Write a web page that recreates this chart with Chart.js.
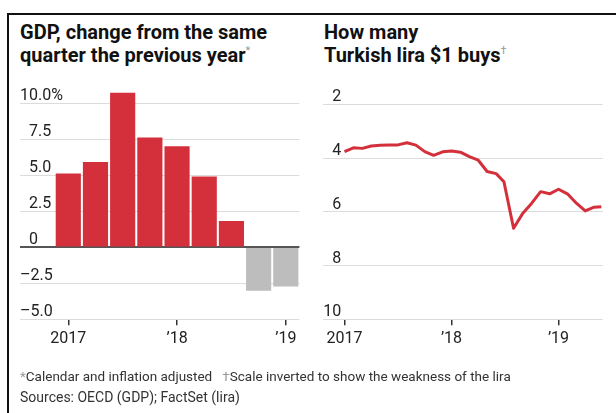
<!DOCTYPE html>
<html>
<head>
<meta charset="utf-8">
<script src="https://cdn.jsdelivr.net/npm/chart.js@4.4.1/dist/chart.umd.min.js"></script>
<style>
  html, body { margin: 0; padding: 0; background: #fff; }
  #page { position: relative; width: 616px; height: 413px; overflow: hidden; font-family: Roboto, "Noto Sans", sans-serif; color: #111; }
  .frame { position: absolute; left: 7px; top: 13px; width: 640px; height: 440px; border-left: 2px solid #111; border-top: 2px solid #111; }
  .title { position: absolute; top: 21px; font-weight: 700; font-size: 20px; line-height: 23px; white-space: nowrap; }
  .title sup { font-size: 11px; color: #999; font-weight: 400; vertical-align: top; line-height: 14px; }
  canvas { position: absolute; top: 0; }
  .notes { position: absolute; left: 20px; top: 366px; font-size: 13.5px; line-height: 21px; color: #333; white-space: nowrap; }
  .notes .mark { color: #999; }
</style>
</head>
<body>
<div id="page">
  <div class="frame"></div>
  <div class="title" style="left:20px">GDP, change from the same<br>quarter the previous year<sup>*</sup></div>
  <div class="title" style="left:324px">How many<br>Turkish lira $1 buys<sup>†</sup></div>
  <canvas id="gdpChart" width="310" height="413" style="left:0"></canvas>
  <canvas id="liraChart" width="306" height="413" style="left:310px"></canvas>
  <div class="notes">
    <span class="mark">*</span>Calendar and inflation adjusted &nbsp;&nbsp;<span class="mark">†</span>Scale inverted to show the weakness of the lira<br>
    <span style="font-size:14px">Sources: OECD (GDP); FactSet (lira)</span>
  </div>
</div>
<script>
// GDP, change from the same quarter the previous year (Q1 2017 .. Q1 2019)
const gdpQuarters = [0, 1, 2, 3, 4, 5, 6, 7, 8];
const gdpValues = [5.1, 5.9, 10.7, 7.6, 7.0, 4.9, 1.8, -3.0, -2.7];
const gdpTickValues = [-5, -2.5, 0, 2.5, 5, 7.5, 10];
const gdpTickLabels = ['\u20135.0', '\u20132.5', '\u20070', '\u20072.5', '\u20075.0', '\u20077.5', '10.0%'];
const gdpYearTicks = [0, 4, 8];
const gdpYearLabels = ['2017', '\u201918', '\u201919'];

// Turkish lira per dollar, monthly (years since Jan 2017)
const liraTimes = [0, 0.083, 0.167, 0.25, 0.333, 0.417, 0.5, 0.583, 0.667, 0.75,
    0.833, 0.917, 1.0, 1.083, 1.167, 1.25, 1.333, 1.417, 1.49, 1.58,
    1.667, 1.75, 1.833, 1.917, 2.0, 2.083, 2.167, 2.25, 2.333, 2.4];
const liraValues = [3.76, 3.62, 3.64, 3.55, 3.52, 3.51, 3.51, 3.43, 3.52, 3.76,
    3.90, 3.77, 3.74, 3.78, 3.95, 4.08, 4.50, 4.58, 4.88, 6.61,
    6.05, 5.68, 5.25, 5.33, 5.16, 5.33, 5.68, 5.97, 5.83, 5.81];
const liraTickValues = [2, 4, 6, 8, 10];
const liraTickLabels = ['\u20072', '\u20074', '\u20076', '\u20078', '10'];
const liraYearTicks = [0, 1, 2];
const liraYearLabels = ['2017', '\u201918', '\u201919'];

const RED = '#d3303b';
const GREY = '#bdbdbd';
const tickFont = { family: 'Roboto', size: 16 };

Chart.defaults.font.family = 'Roboto';

// x axis with only year tick marks below the plot
function yearAxis(min, max, values, labels) {
    return {
        type: 'linear',
        min: min,
        max: max,
        offset: false,
        afterBuildTicks: (s) => { s.ticks = values.map(v => ({ value: v })); },
        afterFit: (s) => { s.height = 30; },
        grid: { offset: false, drawOnChartArea: false, drawTicks: true, tickLength: 6, color: '#333', lineWidth: 1.5 },
        border: { display: false },
        ticks: {
            padding: 4,
            maxRotation: 0,
            autoSkip: false,
            font: tickFont,
            color: '#222',
            callback: (v, i) => labels[i]
        }
    };
}

// y axis with labels sitting on top of the grid lines
function valueAxis(min, max, values, labels, reverse, strongZero) {
    return {
        min: min,
        max: max,
        reverse: reverse,
        afterBuildTicks: (s) => { s.ticks = values.map(v => ({ value: v })); },
        afterFit: (s) => { s.width = 0; },
        grid: {
            drawTicks: false,
            color: (ctx) => (strongZero && ctx.tick.value === 0) ? '#555' : '#dcdcdc',
            lineWidth: (ctx) => (strongZero && ctx.tick.value === 0) ? 2 : 1
        },
        border: { display: false },
        ticks: {
            mirror: true,
            padding: 0,
            labelOffset: -7,
            font: tickFont,
            color: '#222',
            callback: (v, i) => labels[i]
        }
    };
}

new Chart(document.getElementById('gdpChart'), {
    type: 'bar',
    data: {
        datasets: [{
            data: gdpQuarters.map((q, i) => ({ x: q, y: gdpValues[i] })),
            backgroundColor: gdpValues.map(v => v >= 0 ? RED : GREY),
            borderWidth: 0,
            barThickness: 24.5
        }]
    },
    options: {
        responsive: false,
        animation: false,
        devicePixelRatio: 1,
        layout: { autoPadding: false, padding: { left: 20, right: 10.6, top: 86, bottom: 63.7 } },
        plugins: { legend: { display: false }, tooltip: { enabled: false } },
        scales: {
            x: yearAxis(-1.776, 8.5, gdpYearTicks, gdpYearLabels),
            y: valueAxis(-5, 11.2, gdpTickValues, gdpTickLabels, false, true)
        }
    }
});

new Chart(document.getElementById('liraChart'), {
    type: 'line',
    data: {
        datasets: [{
            data: liraTimes.map((t, i) => ({ x: t, y: liraValues[i] })),
            borderColor: RED,
            borderWidth: 3,
            pointRadius: 0,
            tension: 0,
            borderJoinStyle: 'round',
            fill: false
        }]
    },
    options: {
        responsive: false,
        animation: false,
        devicePixelRatio: 1,
        layout: { autoPadding: false, padding: { left: 13.3, right: 13.3, top: 104.3, bottom: 63.7 } },
        plugins: { legend: { display: false }, tooltip: { enabled: false } },
        scales: {
            x: yearAxis(-0.198, 2.413, liraYearTicks, liraYearLabels),
            y: valueAxis(2, 10, liraTickValues, liraTickLabels, true, false)
        }
    }
});
</script>
</body>
</html>
